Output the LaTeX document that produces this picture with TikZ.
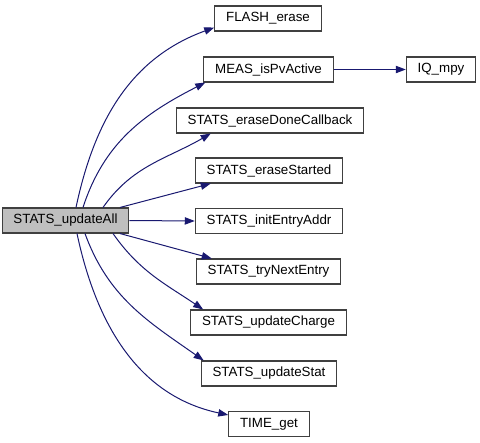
\documentclass[tikz,border=0pt]{standalone}
\usepackage{fontspec}
\setmainfont{Liberation Sans}
\usetikzlibrary{arrows.meta,calc}
\definecolor{DoxEdge}{RGB}{25,25,112}
\definecolor{DoxBorder}{RGB}{64,64,64}
\definecolor{DoxFill}{RGB}{191,191,191}

\begin{document}
\begin{tikzpicture}[x=0.75pt, y=0.75pt,
			box/.style={rectangle, draw=DoxBorder, line width=0.8pt, fill=white,
				minimum height=18.75pt, inner xsep=8.5pt, inner ysep=0pt,
				font=\fontsize{10pt}{12pt}\selectfont},
			root/.style={box, fill=DoxFill},
			arr/.style={-{Triangle[length=7.5pt,width=5.5pt]}, line width=0.75pt, DoxEdge}]
			\useasboundingbox (0,0) rectangle (480,-443);
			
			% Caller
			\node[root] (all) at (65.5,-220.5) {STATS\_updateAll};
			
			% Callees
			\node[box] (flash)   at (268,-18.5)  {FLASH\_erase};
			\node[box] (meas)    at (268.5,-69.5) {MEAS\_isPvActive};
			\node[box] (iq)      at (441,-69.5)  {IQ\_mpy};
			\node[box] (done)    at (270,-120.5) {STATS\_eraseDoneCallback};
			\node[box] (started) at (269,-170.5) {STATS\_eraseStarted};
			\node[box] (init)    at (269,-221)   {STATS\_initEntryAddr};
			\node[box] (trynext) at (268.5,-271.5) {STATS\_tryNextEntry};
			\node[box] (charge)  at (268.5,-322.5) {STATS\_updateCharge};
			\node[box] (stat)    at (269,-373.5) {STATS\_updateStat};
			\node[box] (time)    at (269,-424)   {TIME\_get};
			
			% Arrows
			\draw[arr] ($(all.north)+(10.5,0)$) to[out=78, in=200] ($(flash.south west)+(0,4)$);
			\draw[arr] ($(all.north)+(17.5,0)$) to[out=72, in=207] ($(meas.south west)+(2,0)$);
			\draw[arr] ($(all.north)+(37.5,0)$) to[out=55, in=210] ($(done.south west)+(35,0)$);
			\draw[arr] ($(all.north)+(54.5,0)$) -- ($(started.south west)+(16,0)$);
			\draw[arr] (all.east) -- (init.west);
			\draw[arr] ($(all.south)+(54.5,0)$) -- ($(trynext.north west)+(16,0)$);
			\draw[arr] ($(all.south)+(47.5,0)$) to[out=-55, in=146] ($(charge.north west)+(13,0)$);
			\draw[arr] ($(all.south)+(19.5,0)$) to[out=-70, in=145] ($(stat.north west)+(3,0)$);
			\draw[arr] ($(all.south)+(11.5,0)$) to[out=-78, in=168] ($(time.north west)+(0,-4)$);
			\draw[arr] (meas) -- (iq);
		\end{tikzpicture}
\end{document}
